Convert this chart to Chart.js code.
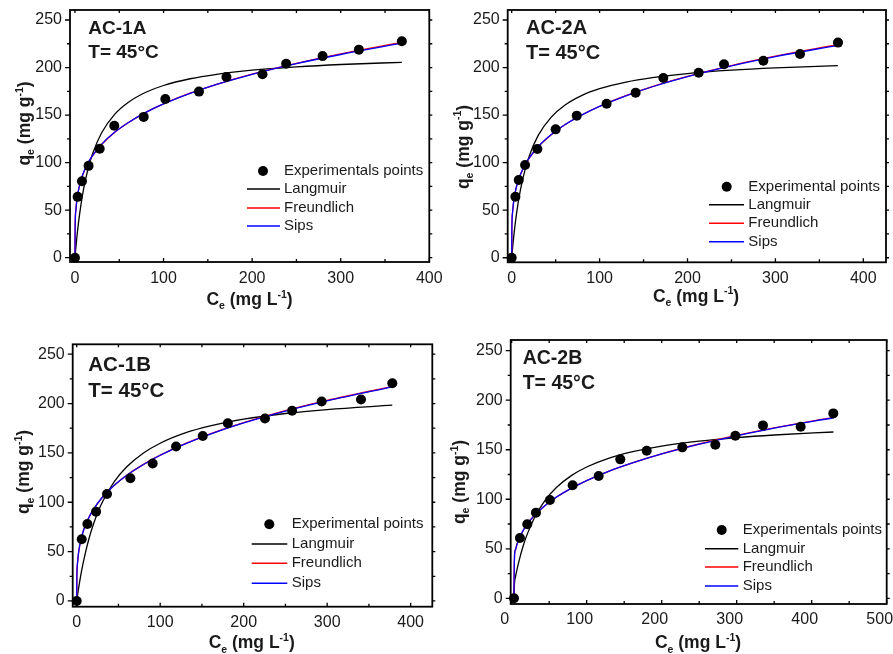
<!DOCTYPE html>
<html><head><meta charset="utf-8">
<script src="https://cdn.jsdelivr.net/npm/chart.js@4.4.0/dist/chart.umd.min.js"></script>
<style>
html,body{margin:0;padding:0;background:#fff;}
#wrap{position:relative;width:893px;height:654px;overflow:hidden;background:#fff;}
#wrap canvas{position:absolute;left:0;top:0;}
</style></head><body>
<div id="wrap">
<canvas id="c1" width="893" height="654"></canvas>
<canvas id="c2" width="893" height="654"></canvas>
<canvas id="c3" width="893" height="654"></canvas>
<canvas id="c4" width="893" height="654"></canvas>
</div>
<script>
// ---------- DATA ----------
const yTickLabels = [0, 50, 100, 150, 200, 250];
const xTicks400 = [0, 100, 200, 300, 400];
const xTicks500 = [0, 100, 200, 300, 400, 500];
const seriesNames = ['Langmuir', 'Freundlich', 'Sips'];

// AC-1A
const ac1aCe = [0, 3, 7.9, 15.4, 27.9, 44.4, 77.6, 102, 140, 171, 211.7, 238.4, 279.5, 320.5, 369];
const ac1aQe = [0, 64, 80.5, 96.6, 114.5, 138.7, 148.1, 167, 174.7, 190, 193, 204, 212, 218.8, 227.6];
const ac1aModelCe = [0, 0.2, 1, 2, 4, 7, 10, 15, 20, 30, 45, 60, 80, 100, 130, 160, 200, 250, 300, 369];
const ac1aLangmuir = [0, 2.2, 10.6, 20.2, 36.9, 57.2, 73.4, 94.2, 109.6, 131.2, 151.0, 163.3, 174.0, 181.1, 188.2, 192.9, 197.2, 200.7, 203.2, 205.5];
const ac1aFreundlich = [0, 33.2, 50.0, 59.7, 71.2, 82.1, 90.0, 99.8, 107.3, 119.0, 132.0, 142.0, 152.9, 161.8, 173.0, 182.4, 193.1, 204.4, 214.4, 226.4];
const ac1aSips = [0, 32.0, 49.5, 59.5, 71.2, 82.3, 90.3, 100.1, 107.6, 119.2, 132.1, 142.0, 152.8, 161.7, 172.8, 182.2, 192.9, 204.1, 213.7, 225.6];

// AC-2A
const ac2aCe = [0, 4.2, 8, 15.2, 29.2, 50, 74, 108, 141, 172.5, 212.7, 241.5, 286.3, 328, 371.2];
const ac2aQe = [0, 64.2, 81.7, 97.5, 114.3, 135, 149.4, 162, 173.6, 189, 194.6, 203.4, 207.2, 214.2, 226.2];
const ac2aModelCe = [0, 0.2, 1, 2, 4, 7, 10, 15, 20, 30, 45, 60, 80, 100, 130, 160, 200, 250, 300, 371];
const ac2aLangmuir = [0, 2.1, 10.3, 19.6, 35.9, 55.8, 71.6, 91.9, 107.1, 128.4, 147.9, 160.1, 170.7, 177.7, 184.7, 189.4, 193.7, 197.2, 199.6, 202.0];
const ac2aFreundlich = [0, 31.7, 48.1, 57.6, 69.0, 79.8, 87.5, 97.3, 104.8, 116.5, 129.4, 139.5, 150.3, 159.3, 170.5, 180.0, 190.7, 202.1, 211.9, 224.0];
const ac2aSips = [0, 30.5, 47.6, 57.4, 69.0, 79.9, 87.7, 97.5, 105.0, 116.7, 129.5, 139.5, 150.2, 159.2, 170.3, 179.8, 190.5, 201.8, 211.5, 223.4];

// AC-1B
const ac1bCe = [0, 6, 12.8, 23.2, 36.3, 64.3, 91, 119, 151, 181, 225.5, 258, 293.4, 340.5, 378];
const ac1bQe = [0, 62.5, 78, 90.5, 108.4, 124.3, 139.2, 156.4, 167.2, 180, 184.8, 192.6, 202, 204, 220.6];
const ac1bModelCe = [0, 0.2, 1, 2, 4, 7, 10, 15, 20, 30, 45, 60, 80, 100, 130, 160, 200, 250, 300, 378];
const ac1bLangmuir = [0, 1.2, 5.9, 11.5, 21.8, 35.5, 47.3, 64.0, 77.7, 98.9, 120.8, 135.9, 149.9, 159.8, 170.2, 177.3, 184.1, 189.9, 193.9, 198.3];
const ac1bFreundlich = [0, 24.4, 38.9, 47.5, 58.1, 68.3, 75.8, 85.2, 92.6, 104.2, 117.2, 127.4, 138.4, 147.7, 159.4, 169.3, 180.6, 192.7, 203.1, 217.4];
const ac1bSips = [0, 23.8, 38.6, 47.4, 58.1, 68.4, 75.9, 85.3, 92.7, 104.3, 117.2, 127.4, 138.3, 147.6, 159.2, 169.1, 180.4, 192.4, 202.7, 216.9];

// AC-2B
const ac2bCe = [3.1, 11, 20.8, 32.4, 51, 81.3, 116, 144.8, 180, 227.5, 271.5, 298.2, 335, 385.3, 428.8];
const ac2bQe = [0, 60.9, 74.7, 86.5, 99.3, 114.1, 123.5, 140.3, 149, 152.4, 155.1, 164.2, 174.6, 173.3, 186.7];
const ac2bModelCe = [3, 3.3, 4, 5, 7, 10, 15, 20, 30, 45, 60, 80, 100, 130, 160, 200, 250, 300, 350, 429];
const ac2bLangmuir = [0, 8, 17.5, 21.4, 28.6, 38.3, 52.0, 63.3, 80.9, 99.4, 112.1, 124.1, 132.6, 141.6, 147.8, 153.7, 158.7, 162.3, 164.9, 167.9];
const ac2bFreundlich = [0, 25, 46.0, 49.1, 54.3, 60.3, 67.9, 74.0, 83.3, 93.9, 102.3, 111.3, 118.9, 128.5, 136.6, 145.9, 155.8, 164.4, 172.1, 182.7];
const ac2bSips = [0, 24, 45.5, 48.9, 54.3, 60.4, 68.1, 74.2, 83.5, 94.0, 102.4, 111.3, 118.9, 128.4, 136.4, 145.7, 155.6, 164.1, 171.8, 182.3];

// ---------- STYLE / LAYOUT ----------
const FF = "Arial, 'Liberation Sans', Helvetica, sans-serif";
const TXT = '#1a1a1a';
const COLORS = { Langmuir: '#000000', Freundlich: '#ff0000', Sips: '#0000ff' };
const yTitleParts = [{t:'q'},{t:'e',s:'sub'},{t:' (mg g'},{t:'-1',s:'sup'},{t:')'}];
const xTitleParts = [{t:'C'},{t:'e',s:'sub'},{t:' (mg L'},{t:'-1',s:'sup'},{t:')'}];
const DOT_R = 5;

function toXY(xs, ys){ return xs.map((x,i)=>({x:x, y:ys[i]})); }

function richText(ctx, parts, x, y, rot, size){
  ctx.save();
  ctx.translate(x, y);
  if (rot) ctx.rotate(rot);
  ctx.fillStyle = TXT; ctx.textBaseline = 'alphabetic'; ctx.textAlign = 'left';
  const fs = p => p.s ? size*0.6 : size;
  let w = 0;
  parts.forEach(p => { ctx.font = `bold ${fs(p)}px ${FF}`; w += ctx.measureText(p.t).width; });
  let cx = -w/2;
  parts.forEach(p => {
    ctx.font = `bold ${fs(p)}px ${FF}`;
    const dy = p.s === 'sub' ? size*0.25 : (p.s === 'sup' ? -size*0.42 : 0);
    ctx.fillText(p.t, cx, dy);
    cx += ctx.measureText(p.t).width;
  });
  ctx.restore();
}

function minorVals(scale){
  const v = scale.ticks.map(t=>t.value);
  const step = v[1]-v[0];
  const out = [];
  for (let i=0;i<v.length-1;i++) out.push((v[i]+v[i+1])/2);
  out.push(v[0]-step/2, v[v.length-1]+step/2);
  return out.filter(m => m >= scale.min && m <= scale.max);
}

const deco = {
  id: 'deco',
  beforeDatasetsDraw(chart, args, o){
    const ctx = chart.ctx, a = chart.chartArea;
    const xs = chart.scales.x, ys = chart.scales.y;
    ctx.save();
    ctx.strokeStyle = '#000';
    ctx.lineWidth = 1.8;
    ctx.strokeRect(a.left, a.top, a.right - a.left, a.bottom - a.top);
    ctx.lineWidth = 1.3;
    ctx.beginPath();
    const yMaj = ys.ticks.map(t=>t.value), yMin = minorVals(ys);
    const xMaj = xs.ticks.map(t=>t.value), xMin = minorVals(xs);
    yMaj.forEach(v => { const p = ys.getPixelForValue(v); ctx.moveTo(a.left, p); ctx.lineTo(a.left-5, p); ctx.moveTo(a.right, p); ctx.lineTo(a.right+3, p); });
    yMin.forEach(v => { const p = ys.getPixelForValue(v); ctx.moveTo(a.left, p); ctx.lineTo(a.left-3, p); ctx.moveTo(a.right, p); ctx.lineTo(a.right+3, p); });
    xMaj.forEach(v => { const p = xs.getPixelForValue(v); ctx.moveTo(p, a.bottom); ctx.lineTo(p, a.bottom-4); ctx.moveTo(p, a.top); ctx.lineTo(p, a.top+3); });
    xMin.forEach(v => { const p = xs.getPixelForValue(v); ctx.moveTo(p, a.bottom); ctx.lineTo(p, a.bottom-3); ctx.moveTo(p, a.top); ctx.lineTo(p, a.top+3); });
    ctx.stroke();
    ctx.restore();
  },
  afterDraw(chart, args, o){
    const ctx = chart.ctx;
    richText(ctx, yTitleParts, o.yTitle.x, o.yTitle.y, -Math.PI/2, 17.5);
    richText(ctx, xTitleParts, o.xTitle.x, o.xTitle.y, 0, 17.5);
    ctx.save();
    ctx.fillStyle = TXT; ctx.textAlign = 'left'; ctx.textBaseline = 'alphabetic';
    ctx.font = `bold ${o.note.size}px ${FF}`;
    o.note.lines.forEach((t,i) => ctx.fillText(t, o.note.x, o.note.ys[i]));
    const L = o.legend;
    const ds = chart.data.datasets;
    ctx.font = `15px ${FF}`; ctx.textBaseline = 'middle';
    ctx.fillStyle = '#000';
    ctx.beginPath(); ctx.arc(L.dotX, L.rows[0], DOT_R, 0, Math.PI*2); ctx.fill();
    ctx.fillStyle = TXT;
    ctx.fillText(ds[0].label, L.textX, L.rows[0]);
    seriesNames.forEach((n,i) => {
      const d = ds.find(q => q.label === n);
      const y = L.rows[i+1];
      ctx.strokeStyle = d.borderColor; ctx.lineWidth = 1.6;
      ctx.beginPath(); ctx.moveTo(L.x1, y); ctx.lineTo(L.x2, y); ctx.stroke();
      ctx.fillStyle = TXT;
      ctx.fillText(n, L.textX, y);
    });
    ctx.restore();
  }
};

function makeChart(id, p){
  const curves = {Langmuir: p.lang, Freundlich: p.freu, Sips: p.sips};
  const orders = {Sips: 1, Freundlich: 2, Langmuir: 3};
  const datasets = [{
    label: p.pointLabel, data: toXY(p.ce, p.qe), showLine: false,
    pointRadius: DOT_R, pointBackgroundColor: '#000', pointBorderColor: '#000', pointBorderWidth: 0,
    order: 0, clip: false
  }];
  seriesNames.forEach(n => datasets.push({
    label: n, data: toXY(p.mCe, curves[n]), showLine: true, borderColor: COLORS[n],
    backgroundColor: COLORS[n], borderWidth: 1.3, pointRadius: 0, cubicInterpolationMode: 'monotone',
    order: orders[n], clip: false
  }));
  return new Chart(document.getElementById(id), {
    type: 'scatter',
    data: { datasets },
    options: {
      responsive: false, animation: false, devicePixelRatio: 1,
      layout: { padding: p.pad },
      plugins: { legend: {display:false}, tooltip: {enabled:false}, deco: p.deco },
      scales: {
        x: {
          type: 'linear', min: p.xMin, max: p.xMax,
          afterBuildTicks: s => { s.ticks = p.xTicks.map(v => ({value: v})); },
          afterFit: s => { s.height = 40; s.paddingLeft = 0; s.paddingRight = 0; },
          grid: {display:false, drawTicks:false}, border: {display:false},
          ticks: { padding: p.xPad, labelOffset: p.xLabelOffset || 0, autoSkip:false, maxRotation:0,
                   color: TXT, font: {family: FF, size: 16} }
        },
        y: {
          type: 'linear', min: p.yMin, max: p.yMax,
          afterBuildTicks: s => { s.ticks = yTickLabels.map(v => ({value: v})); },
          afterFit: s => { s.width = 60; s.paddingTop = 0; s.paddingBottom = 0; },
          grid: {display:false, drawTicks:false}, border: {display:false},
          ticks: { padding: 8, autoSkip:false, color: TXT, font: {family: FF, size: 16} }
        }
      }
    },
    plugins: [deco]
  });
}

makeChart('c1', {
  pointLabel: 'Experimentals points', ce: ac1aCe, qe: ac1aQe, mCe: ac1aModelCe,
  lang: ac1aLangmuir, freu: ac1aFreundlich, sips: ac1aSips,
  xMin: -5.6, xMax: 400, yMin: -4.5, yMax: 260.5, xTicks: xTicks400, xPad: 7,
  pad: {left: 10, top: 10, right: 463.7, bottom: 352},
  deco: { yTitle: {x: 30, y: 123.5}, xTitle: {x: 249.5, y: 305},
          note: {size: 19, x: 88.3, ys: [34, 58.3], lines: ['AC-1A', 'T= 45°C']},
          legend: {dotX: 263, x1: 247, x2: 280, textX: 284, rows: [171, 189, 208, 226]} }
});
makeChart('c2', {
  pointLabel: 'Experimental points', ce: ac2aCe, qe: ac2aQe, mCe: ac2aModelCe,
  lang: ac2aLangmuir, freu: ac2aFreundlich, sips: ac2aSips,
  xMin: -4.55, xMax: 425.8, yMin: -4.8, yMax: 260.5, xTicks: xTicks400, xPad: 7,
  pad: {left: 447.7, top: 10, right: 7, bottom: 351.7},
  deco: { yTitle: {x: 468.5, y: 147}, xTitle: {x: 696, y: 301.7},
          note: {size: 20, x: 526, ys: [34, 59], lines: ['AC-2A', 'T= 45°C']},
          legend: {dotX: 726.7, x1: 709, x2: 744, textX: 748.3, rows: [186.7, 204.7, 223.3, 241.7]} }
});
makeChart('c3', {
  pointLabel: 'Experimental points', ce: ac1bCe, qe: ac1bQe, mCe: ac1bModelCe,
  lang: ac1bLangmuir, freu: ac1bFreundlich, sips: ac1bSips,
  xMin: -4.8, xMax: 425.9, yMin: -5.8, yMax: 260, xTicks: xTicks400, xPad: 6,
  pad: {left: 12.7, top: 344.3, right: 460.7, bottom: 7.3},
  deco: { yTitle: {x: 29.3, y: 472}, xTitle: {x: 251.7, y: 648.3},
          note: {size: 20.5, x: 88.3, ys: [370.7, 396.7], lines: ['AC-1B', 'T= 45°C']},
          legend: {dotX: 269.3, x1: 251.7, x2: 287.3, textX: 291.7, rows: [524.3, 544, 563.3, 583.3]} }
});
makeChart('c4', {
  pointLabel: 'Experimentals points', ce: ac2bCe, qe: ac2bQe, mCe: ac2bModelCe,
  lang: ac2bLangmuir, freu: ac2bFreundlich, sips: ac2bSips,
  xMin: -1.3, xMax: 500, yMin: -5.75, yMax: 260.8, xTicks: xTicks500, xPad: 6, xLabelOffset: -7,
  pad: {left: 450.7, top: 340, right: 6.3, bottom: 10},
  deco: { yTitle: {x: 465, y: 482}, xTitle: {x: 698, y: 648.3},
          note: {size: 19.5, x: 522.7, ys: [364, 389], lines: ['AC-2B', 'T= 45°C']},
          legend: {dotX: 721.7, x1: 705, x2: 738.3, textX: 742.7, rows: [530, 548.7, 567, 586]} }
});
</script>
</body></html>
